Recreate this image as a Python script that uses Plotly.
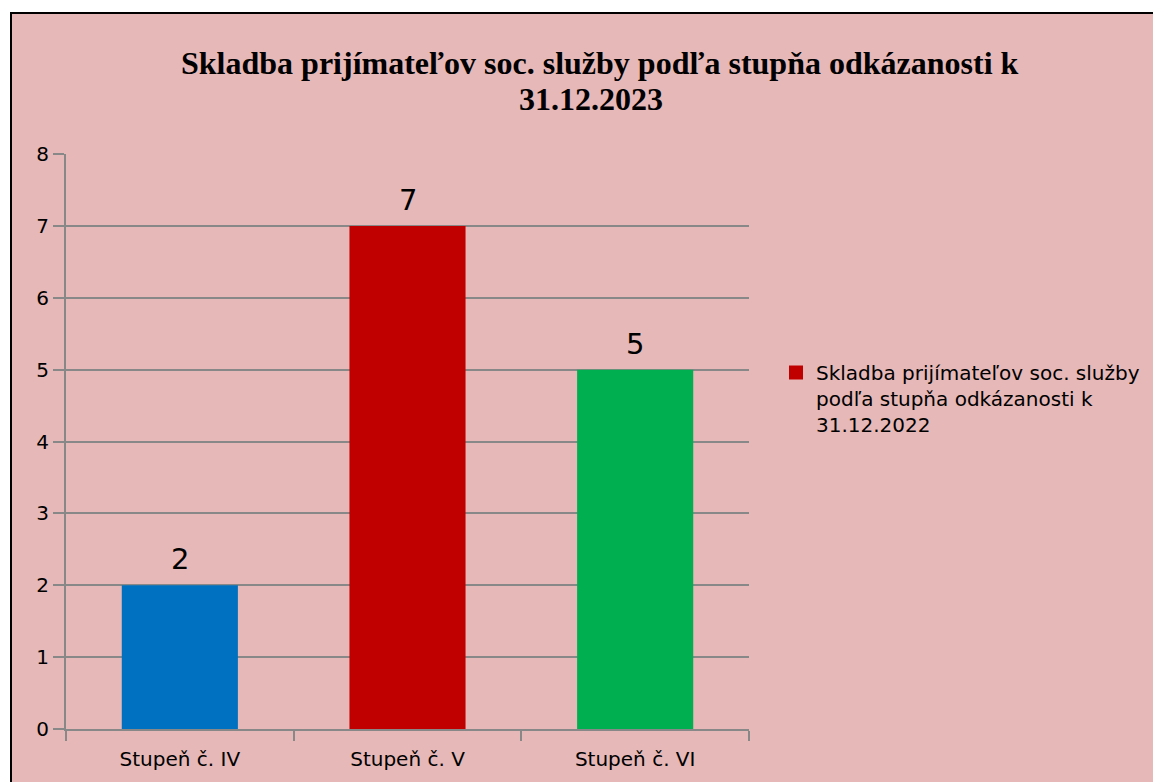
import plotly.graph_objects as go

categories = ["Stupeň č. IV", "Stupeň č. V", "Stupeň č. VI"]
values = [2, 7, 5]
bar_colors = ["#0070C0", "#C00000", "#00B050"]
legend_name = "Skladba prijímateľov soc. služby<br>podľa stupňa odkázanosti k<br>31.12.2022"
title_line1 = "Skladba prijímateľov soc. služby podľa stupňa odkázanosti k"
title_line2 = "31.12.2023"
y_ticks = [0, 1, 2, 3, 4, 5, 6, 7, 8]

BG = "#E6B8B7"
GRID = "#888888"
FONT = "'DejaVu Sans', 'Open Sans', sans-serif"

# page offset of the figure div (body margin)
OFF = 8
W, H = 1161 - OFF, 782 - OFF
L = 66 - OFF
T = 154 - OFF
R = W - (749 - OFF)
B = H - (729 - OFF)
pw, ph = W - L - R, H - T - B


def px_x(x):
    return (x - OFF - L) / pw


def px_y(y):
    return (H - B - (y - OFF)) / ph


fig = go.Figure()
fig.add_trace(go.Bar(
    x=categories, y=values,
    marker=dict(color=bar_colors, line=dict(width=0)),
    showlegend=False, hoverinfo="x+y",
))
fig.add_trace(go.Scatter(
    x=[None], y=[None], mode="markers",
    marker=dict(symbol="square", size=14, color="#C00000"),
    name=legend_name, showlegend=True,
))

data_labels = [
    dict(text=str(v), x=c, y=v, xref="x", yref="y",
         xanchor="center", yanchor="middle", yshift=26, showarrow=False,
         font=dict(family=FONT, size=29, color="black"))
    for c, v in zip(categories, values)
]

title_annots = [
    dict(text="<b>" + title_line1 + "</b>", xref="paper", yref="paper",
         x=px_x(600), y=px_y(63), xanchor="center", yanchor="middle",
         showarrow=False, font=dict(family="Liberation Serif, serif", size=32, color="black")),
    dict(text="<b>" + title_line2 + "</b>", xref="paper", yref="paper",
         x=px_x(591), y=px_y(99), xanchor="center", yanchor="middle",
         showarrow=False, font=dict(family="Liberation Serif, serif", size=32, color="black")),
]

fig.update_layout(
    width=W, height=H,
    margin=dict(l=L, r=R, t=T, b=B),
    paper_bgcolor="white", plot_bgcolor=BG,
    bargap=0.49,
    font=dict(family=FONT, color="black"),
    showlegend=True,
    legend=dict(
        x=px_x(776), y=px_y(353), xanchor="left", yanchor="top",
        valign="top",
        font=dict(family=FONT, size=20, color="black"),
        bgcolor="rgba(0,0,0,0)", itemwidth=30,
    ),
    xaxis=dict(
        showline=True, linecolor=GRID, linewidth=2,
        ticks="outside", tickson="boundaries", ticklen=10, tickcolor=GRID, tickwidth=2,
        tickfont=dict(family=FONT, size=20, color="black"),
        ticklabelstandoff=11,
        showgrid=False,
    ),
    yaxis=dict(
        range=[0, 8], tickvals=y_ticks, ticktext=[str(t) for t in y_ticks],
        showline=True, linecolor=GRID, linewidth=2,
        ticks="outside", ticklen=11, tickcolor=GRID, tickwidth=2,
        tickfont=dict(family=FONT, size=20, color="black"),
        showgrid=True, gridcolor=GRID, gridwidth=2, zeroline=False,
    ),
    annotations=title_annots + data_labels,
    shapes=[
        dict(type="rect", xref="paper", yref="paper",
             x0=px_x(11), x1=px_x(1200), y0=px_y(820), y1=px_y(13),
             line=dict(color="black", width=2), fillcolor=BG, layer="below"),
    ],
)

fig.write_html("out.html")
